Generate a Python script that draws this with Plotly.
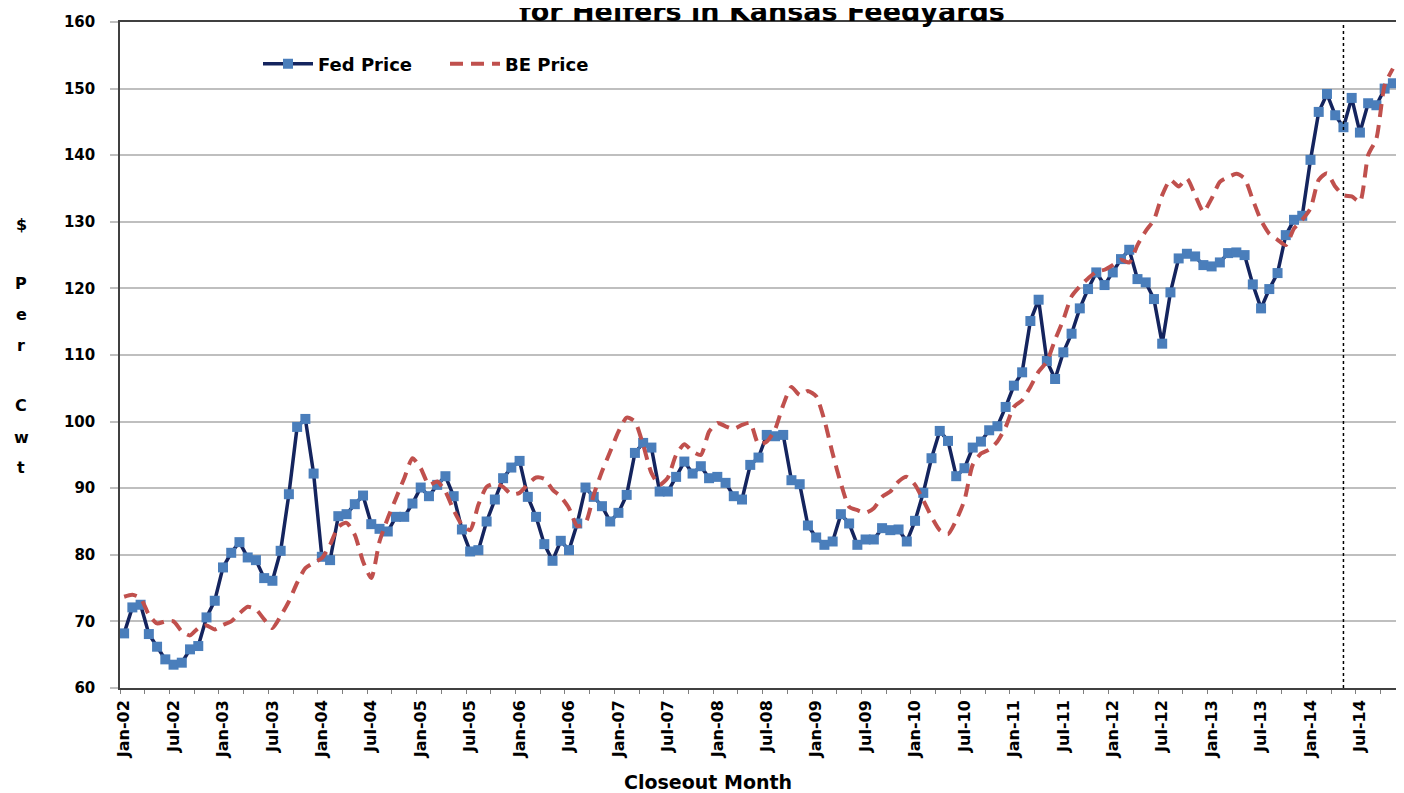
import plotly.graph_objects as go

# ---------------- data ----------------
fed_price = [
    68.2, 72.1, 72.5, 68.1, 66.2, 64.3, 63.5, 63.8, 65.8, 66.3, 70.6, 73.1,
    78.1, 80.3, 81.9, 79.6, 79.2, 76.5, 76.1, 80.6, 89.1, 99.2, 100.4, 92.2,
    79.7, 79.2, 85.8, 86.1, 87.6, 88.9, 84.6, 83.9, 83.5, 85.7, 85.7, 87.7,
    90.1, 88.8, 90.5, 91.8, 88.8, 83.8, 80.5, 80.7, 85.0, 88.3, 91.5, 93.1,
    94.1, 88.7, 85.7, 81.6, 79.1, 82.1, 80.7, 84.7, 90.1, 88.7, 87.3, 85.0,
    86.3, 89.0, 95.3, 96.8, 96.1, 89.5, 89.5, 91.7, 94.0, 92.2, 93.3, 91.5,
    91.7, 90.8, 88.8, 88.3, 93.5, 94.6, 98.0, 97.8, 98.0, 91.2, 90.6, 84.4,
    82.6, 81.5, 82.0, 86.1, 84.7, 81.5, 82.3, 82.3, 84.0, 83.7, 83.8, 82.0,
    85.1, 89.3, 94.5, 98.6, 97.1, 91.8, 93.0, 96.1, 97.0, 98.7, 99.3, 102.2,
    105.4, 107.4, 115.1, 118.3, 109.1, 106.4, 110.4, 113.2, 117.0, 119.9, 122.4, 120.5,
    122.4, 124.4, 125.8, 121.4, 120.9, 118.4, 111.7, 119.4, 124.5, 125.2, 124.8, 123.5,
    123.3, 123.9, 125.3, 125.4, 125.0, 120.6, 117.0, 119.9, 122.3, 128.0, 130.3, 130.9,
    139.3, 146.5, 149.2, 146.0, 144.2, 148.6, 143.4, 147.8, 147.5, 150.0, 150.8,
]

be_price = [
    73.7, 74.0, 73.5, 71.0, 69.7, 70.0, 70.0, 68.5, 67.9, 69.0, 69.4, 68.8,
    69.5, 70.0, 71.2, 72.2, 71.8, 70.3, 69.0, 70.8, 73.0, 75.8, 78.0, 78.8,
    79.5, 81.5, 84.2, 84.8, 83.0, 79.0, 76.5, 82.0, 85.5, 88.5, 91.5, 94.5,
    93.0, 90.5, 91.0, 89.5, 86.7, 84.5, 83.7, 87.5, 90.2, 90.7, 90.2, 89.1,
    89.3, 90.6, 91.6, 91.4, 89.8, 88.7, 87.0, 84.3, 84.8, 89.0, 92.5, 95.5,
    98.5, 100.6, 100.0, 96.5, 92.3, 90.5, 91.6, 95.0, 96.6, 95.5, 95.0, 98.5,
    99.8, 99.3, 98.9, 99.5, 99.8, 96.6, 97.0, 98.8, 102.5, 105.2, 104.0, 104.6,
    103.8, 100.2, 95.2, 90.7, 87.2, 86.7, 86.3, 87.0, 88.7, 89.5, 91.0, 91.7,
    90.5, 88.2, 85.7, 83.7, 83.1, 85.2, 88.2, 93.5, 95.2, 95.8, 97.0, 99.2,
    102.2, 103.2, 105.2, 107.5, 109.0, 112.3, 115.3, 118.8, 120.3, 121.5, 122.5, 122.8,
    123.5, 124.3, 123.9, 126.5, 128.6, 130.3, 134.0, 136.3, 135.3, 136.5, 134.0, 131.5,
    133.5, 136.0, 136.7, 137.2, 136.5, 133.3, 130.2, 128.2, 127.3, 126.5, 129.0, 130.3,
    132.0, 136.3, 137.3, 135.3, 134.0, 133.8, 133.0, 140.0, 142.5, 150.5, 153.0,
]

month_names = ["Jan", "Feb", "Mar", "Apr", "May", "Jun",
               "Jul", "Aug", "Sep", "Oct", "Nov", "Dec"]
start_year = 2002
months = [f"{month_names[i % 12]}-{(start_year + i // 12) % 100:02d}"
          for i in range(len(fed_price))]
month_idx = list(range(len(months)))
tick_idx = month_idx[::6]
tick_text = months[::6]
marker_month = "May-14"
y_ticks = list(range(60, 161, 10))

# ---------------- figure ----------------
FONT = "DejaVu Sans"
BOLD = dict(family=FONT, weight="bold", color="black")

# page body has an 8px margin: figure is placed at (8, 8)
W, H = 1396, 785
L, R, T, B = 112, 7, 14, 105
pw, ph = W - L - R, H - T - B


def px_x(xpx):
    return (xpx - 8 - L) / pw


def px_y(ypx):
    return (H - B + 8 - ypx) / ph


fig = go.Figure()
fig.add_trace(go.Scatter(
    x=month_idx, y=fed_price, name="Fed Price", mode="lines+markers",
    line=dict(color="#14245e", width=3.5),
    marker=dict(symbol="square", size=10, color="#4a7ebb",
                line=dict(width=0)),
    hovertext=months,
))
fig.add_trace(go.Scatter(
    x=month_idx, y=be_price, name="BE Price", mode="lines",
    line=dict(color="#c0504d", width=4, dash="13px,8px", shape="spline",
              smoothing=0.6),
    hovertext=months,
))

fig.add_vline(x=months.index(marker_month),
              line=dict(color="black", width=1.5, dash="dot"))

fig.update_layout(
    width=W, height=H,
    margin=dict(l=L, r=R, t=T, b=B, autoexpand=False),
    paper_bgcolor="white", plot_bgcolor="white",
    showlegend=True,
    legend=dict(orientation="h", x=px_x(258), y=px_y(64), xanchor="left",
                yanchor="middle", bgcolor="rgba(0,0,0,0)",
                font=dict(size=18, **BOLD), itemwidth=50,
                entrywidth=122, entrywidthmode="pixels"),
)

fig.update_xaxes(
    range=[-0.5, len(months) - 0.5], automargin=False,
    tickmode="array", tickvals=tick_idx, ticktext=tick_text,
    tickangle=-90, ticks="", tickfont=dict(size=16, **BOLD),
    ticklabelstandoff=4,
    minor=dict(ticks="outside", tick0=-0.5, dtick=3, ticklen=4,
               tickcolor="#7f7f7f", tickwidth=1.2, showgrid=False),
    showline=True, linecolor="#404040", linewidth=1.5, mirror=True,
    showgrid=False, zeroline=False,
)
fig.update_yaxes(
    range=[60, 160], automargin=False, tickmode="array", tickvals=y_ticks,
    ticks="outside", ticklen=8, tickcolor="#bfbfbf", tickwidth=1.5,
    tickfont=dict(size=15, **BOLD), ticklabelstandoff=12,
    showline=True, linecolor="#404040", linewidth=1.5, mirror=True,
    showgrid=True, gridcolor="#bfbfbf", gridwidth=1.5, zeroline=False,
)

# title (second line, partially cut at top of the image)
fig.add_annotation(text="for Heifers in Kansas Feedyards", xref="paper",
                   yref="paper", x=px_x(762), y=px_y(11),
                   xanchor="center", yanchor="middle", showarrow=False,
                   font=dict(size=27, **BOLD))

# x axis title
fig.add_annotation(text="Closeout Month", xref="paper", yref="paper",
                   x=px_x(708), y=px_y(782),
                   xanchor="center", yanchor="middle", showarrow=False,
                   font=dict(size=19, **BOLD))

# stacked y axis title
y_letters = [("$", 225), ("P", 283), ("e", 314), ("r", 345),
             ("C", 405), ("w", 437), ("t", 467)]
for ch, ypx in y_letters:
    fig.add_annotation(text=ch, xref="paper", yref="paper",
                       x=px_x(21), y=px_y(ypx),
                       xanchor="center", yanchor="middle", showarrow=False,
                       font=dict(size=16, **BOLD))

fig.write_html("out.html")
